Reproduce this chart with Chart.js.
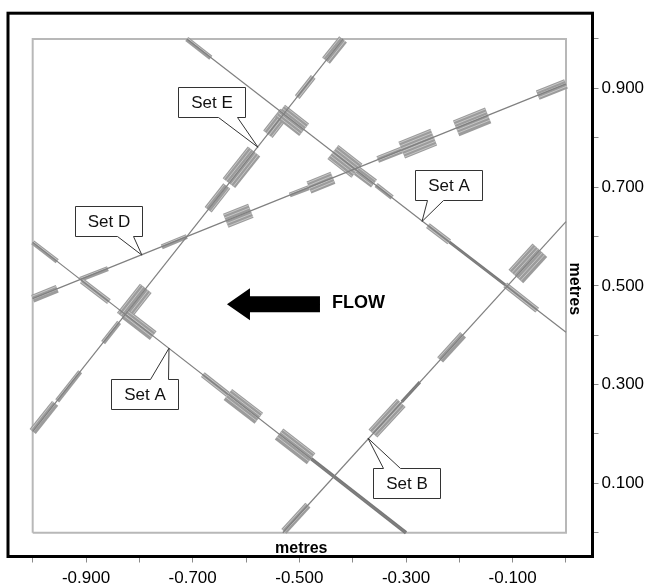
<!DOCTYPE html>
<html>
<head>
<meta charset="utf-8">
<script src="https://cdn.jsdelivr.net/npm/chart.js@4.4.1/dist/chart.umd.min.js"></script>
<style>
  html, body { margin: 0; padding: 0; background: #fff; }
  canvas { display: block; }
</style>
</head>
<body>
<canvas id="traceChart" width="647" height="584"></canvas>
<script>
// axis ticks (metres)
const xLabelTicks = [-0.9, -0.7, -0.5, -0.3, -0.1];
const xMinorTicks = [-1.0, -0.8, -0.6, -0.4, -0.2, 0.0];
const yLabelTicks = [0.1, 0.3, 0.5, 0.7, 0.9];
const yMinorTicks = [0.0, 0.2, 0.4, 0.6, 0.8, 1.0];

// mapped window outline
const boxX = [-1.0, -1.0, 0.0, 0.0, -1.0];
const boxY = [0.0, 1.0, 1.0, 0.0, 0.0];

// trace lines, [x, y] end points
const setAUpperLine = [[-0.711, 1.0], [0.0, 0.406]];
const setALowerLine = [[-1.0, 0.588], [-0.300, 0.0]];
const setDLine = [[-1.0, 0.474], [0.0, 0.909]];
const setELine = [[-1.0, 0.205], [-0.418, 1.0]];
const setBLine = [[-0.531, 0.0], [0.0, 0.630]];

// mapped segments [x1, y1, x2, y2] and their thickness
const setAUpperSegs = [
  [-0.711, 1.000, -0.666, 0.962],
  [-0.536, 0.854, -0.491, 0.816],
  [-0.437, 0.771, -0.392, 0.733],
  [-0.392, 0.733, -0.360, 0.707],
  [-0.356, 0.704, -0.326, 0.679],
  [-0.259, 0.622, -0.219, 0.589],
  [-0.219, 0.589, -0.114, 0.502],
  [-0.114, 0.502, -0.054, 0.451],
];
const setAUpperWidths = [5, 16, 18, 10, 5, 6, 3, 6];

const setALowerSegs = [
  [-1.000, 0.588, -0.954, 0.550],
  [-0.908, 0.510, -0.857, 0.468],
  [-0.827, 0.443, -0.774, 0.399],
  [-0.681, 0.320, -0.634, 0.280],
  [-0.634, 0.280, -0.576, 0.232],
  [-0.538, 0.200, -0.478, 0.150],
  [-0.478, 0.150, -0.300, 0.000],
];
const setALowerWidths = [5, 6, 11, 6, 14, 14, 3.5];

const setDSegs = [
  [-1.000, 0.474, -0.954, 0.494],
  [-0.911, 0.513, -0.859, 0.535],
  [-0.758, 0.579, -0.711, 0.600],
  [-0.638, 0.632, -0.591, 0.652],
  [-0.518, 0.684, -0.482, 0.699],
  [-0.482, 0.699, -0.437, 0.719],
  [-0.353, 0.756, -0.308, 0.775],
  [-0.308, 0.775, -0.248, 0.801],
  [-0.206, 0.819, -0.146, 0.845],
  [-0.053, 0.886, 0.000, 0.909],
];
const setDWidths = [8, 5, 5, 15, 5, 13, 7, 18, 17, 10];

const setESegs = [
  [-1.000, 0.205, -0.958, 0.262],
  [-0.954, 0.267, -0.911, 0.326],
  [-0.868, 0.385, -0.838, 0.426],
  [-0.831, 0.436, -0.788, 0.495],
  [-0.671, 0.654, -0.636, 0.702],
  [-0.632, 0.708, -0.585, 0.772],
  [-0.559, 0.807, -0.527, 0.851],
  [-0.504, 0.882, -0.474, 0.923],
  [-0.450, 0.956, -0.418, 0.999],
];
const setEWidths = [8, 5, 5, 15, 9, 16, 12, 6, 10];

const setBSegs = [
  [-0.529, 0.003, -0.484, 0.056],
  [-0.362, 0.201, -0.309, 0.263],
  [-0.308, 0.265, -0.274, 0.305],
  [-0.236, 0.350, -0.193, 0.401],
  [-0.094, 0.519, -0.049, 0.572],
];
const setBWidths = [7, 12, 3, 8, 20];

// callout labels: box centre and pointer tip in metres
const callouts = [
  { text: "Set E", x: -0.6647, y: 0.8727, ax: -0.5775, ay: 0.7806, side: "bottom", tail: [40, 59] },
  { text: "Set D", x: -0.8579, y: 0.6323, ax: -0.7951, ay: 0.5621, side: "bottom", tail: [42, 58] },
  { text: "Set A", x: -0.2194, y: 0.7044, ax: -0.2700, ay: 0.6303, side: "bottom", tail: [12, 28] },
  { text: "Set A", x: -0.7904, y: 0.2816, ax: -0.7444, ay: 0.3737, side: "top", tail: [39, 57] },
  { text: "Set B", x: -0.2991, y: 0.1012, ax: -0.3713, ay: 0.1914, side: "top", tail: [10, 27] },
];

const FONT = '"Liberation Sans", Arial, sans-serif';
Chart.defaults.font.family = FONT;

function isIn(list, v) {
  return list.some((t) => Math.abs(t - v) < 1e-6);
}

function pathDataset(points, color, width, order) {
  return {
    data: points.map((p) => ({ x: p[0], y: p[1] })),
    showLine: true,
    borderColor: color,
    borderWidth: width,
    borderCapStyle: "butt",
    pointRadius: 0,
    fill: false,
    order: order,
  };
}

function buildDatasets() {
  const out = [];
  out.push(pathDataset(boxX.map((x, i) => [x, boxY[i]]), "#b8b8b8", 2, 3));

  const groups = [
    [setAUpperSegs, setAUpperWidths],
    [setALowerSegs, setALowerWidths],
    [setDSegs, setDWidths],
    [setESegs, setEWidths],
    [setBSegs, setBWidths],
  ];
  groups.forEach(([segs, widths]) => {
    segs.forEach((s, i) => {
      const w = widths[i];
      const color = w < 4 ? "#787878" : "#9c9c9c";
      const ds = pathDataset([[s[0], s[1]], [s[2], s[3]]], color, w, 2);
      ds.striped = w >= 5;
      out.push(ds);
    });
  });

  [setAUpperLine, setALowerLine, setDLine, setELine, setBLine].forEach((l) => {
    out.push(pathDataset(l, "#808080", 1.2, 1));
  });
  return out;
}

// light stripes inside each thick segment, like the scanned hatching
const stripePlugin = {
  id: "stripes",
  afterDatasetDraw(chart, args) {
    const ds = chart.data.datasets[args.index];
    if (!ds.striped) return;
    const pts = args.meta.data;
    const x1 = pts[0].x, y1 = pts[0].y, x2 = pts[1].x, y2 = pts[1].y;
    const len = Math.hypot(x2 - x1, y2 - y1);
    const nx = -(y2 - y1) / len;
    const ny = (x2 - x1) / len;
    const half = ds.borderWidth / 2;
    const ctx = chart.ctx;
    ctx.save();
    ctx.strokeStyle = "#c6c6c6";
    ctx.lineWidth = 1;
    for (let k = -half + 1.5; k <= half - 1.5; k += 3) {
      ctx.beginPath();
      ctx.moveTo(x1 + nx * k, y1 + ny * k);
      ctx.lineTo(x2 + nx * k, y2 + ny * k);
      ctx.stroke();
    }
    ctx.restore();
  },
};

function drawCallout(ctx, chart, c) {
  const xs = chart.scales.x;
  const ys = chart.scales.y;
  const w = 67;
  const h = 30;
  const cx = xs.getPixelForValue(c.x);
  const cy = ys.getPixelForValue(c.y);
  const l = Math.round(cx - w / 2) + 0.5;
  const t = Math.round(cy - h / 2) + 0.5;
  const r = l + w;
  const b = t + h;
  const ax = xs.getPixelForValue(c.ax);
  const ay = ys.getPixelForValue(c.ay);

  ctx.beginPath();
  ctx.moveTo(l, t);
  if (c.side === "top") {
    ctx.lineTo(l + c.tail[0], t);
    ctx.lineTo(ax, ay);
    ctx.lineTo(l + c.tail[1], t);
  }
  ctx.lineTo(r, t);
  ctx.lineTo(r, b);
  if (c.side === "bottom") {
    ctx.lineTo(l + c.tail[1], b);
    ctx.lineTo(ax, ay);
    ctx.lineTo(l + c.tail[0], b);
  }
  ctx.lineTo(l, b);
  ctx.closePath();
  ctx.fillStyle = "#fff";
  ctx.fill();
  ctx.strokeStyle = "#333";
  ctx.lineWidth = 1;
  ctx.stroke();

  ctx.fillStyle = "#111";
  ctx.font = "17px " + FONT;
  ctx.textAlign = "center";
  ctx.textBaseline = "middle";
  ctx.fillText(c.text, (l + r) / 2, (t + b) / 2 + 1);
}

const overlayPlugin = {
  id: "overlay",
  afterDatasetsDraw(chart) {
    const ctx = chart.ctx;
    const xs = chart.scales.x;
    const ys = chart.scales.y;
    ctx.save();

    callouts.forEach((c) => drawCallout(ctx, chart, c));

    // flow arrow
    const tx = xs.getPixelForValue(-0.6357);
    const ty = ys.getPixelForValue(0.4629);
    ctx.beginPath();
    ctx.moveTo(tx, ty);
    ctx.lineTo(tx + 23, ty - 16);
    ctx.lineTo(tx + 23, ty - 8);
    ctx.lineTo(tx + 93, ty - 8);
    ctx.lineTo(tx + 93, ty + 8);
    ctx.lineTo(tx + 23, ty + 8);
    ctx.lineTo(tx + 23, ty + 16);
    ctx.closePath();
    ctx.fillStyle = "#000";
    ctx.fill();
    ctx.font = "bold 18px " + FONT;
    ctx.textAlign = "left";
    ctx.textBaseline = "middle";
    ctx.fillText("FLOW", tx + 105, ty - 1);
    ctx.restore();
  },
  afterDraw(chart) {
    const ctx = chart.ctx;
    const a = chart.chartArea;
    ctx.save();
    ctx.strokeStyle = "#000";
    ctx.lineWidth = 3;
    ctx.strokeRect(a.left, a.top, a.right - a.left, a.bottom - a.top);

    ctx.fillStyle = "#000";
    ctx.font = "bold 16px " + FONT;
    ctx.textAlign = "center";
    ctx.textBaseline = "alphabetic";
    ctx.fillText("metres", (a.left + a.right) / 2 + 1, a.bottom - 4);

    ctx.translate(a.right - 23, chart.scales.y.getPixelForValue(0.5) + 3);
    ctx.rotate(Math.PI / 2);
    ctx.fillText("metres", 0, 0);
    ctx.restore();
  },
};

new Chart(document.getElementById("traceChart"), {
  type: "scatter",
  data: { datasets: buildDatasets() },
  plugins: [stripePlugin, overlayPlugin],
  options: {
    responsive: false,
    animation: false,
    layout: { padding: { left: 8, top: 7.5, right: 0, bottom: 0 } },
    plugins: { legend: { display: false }, tooltip: { enabled: false } },
    scales: {
      x: {
        type: "linear",
        position: "bottom",
        min: -1.0463,
        max: 0.0497,
        afterBuildTicks: (scale) => {
          scale.ticks = xLabelTicks.concat(xMinorTicks).sort((a, b) => a - b).map((v) => ({ value: v }));
        },
        afterFit: (scale) => { scale.height = 27.5; },
        grid: { drawOnChartArea: false, drawTicks: true, tickLength: 6, color: "#8a8a8a" },
        border: { display: false },
        ticks: {
          autoSkip: false,
          maxRotation: 0,
          padding: 6,
          color: "#000",
          font: { size: 17 },
          callback: (v) => (isIn(xLabelTicks, v) ? v.toFixed(3) : ""),
        },
      },
      y: {
        type: "linear",
        position: "right",
        min: -0.0481,
        max: 1.0521,
        afterBuildTicks: (scale) => {
          scale.ticks = yLabelTicks.concat(yMinorTicks).sort((a, b) => a - b).map((v) => ({ value: v }));
        },
        afterFit: (scale) => { scale.width = 54.5; },
        grid: { drawOnChartArea: false, drawTicks: true, tickLength: 6, color: "#8a8a8a" },
        border: { display: false },
        ticks: {
          autoSkip: false,
          padding: 3,
          color: "#000",
          font: { size: 17 },
          callback: (v) => (isIn(yLabelTicks, v) ? v.toFixed(3) : ""),
        },
      },
    },
  },
});
</script>
</body>
</html>
